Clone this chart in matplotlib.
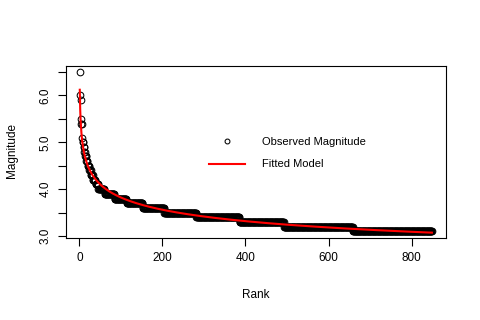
import numpy as np
import matplotlib
matplotlib.use("Agg")
import matplotlib.pyplot as plt
from matplotlib.lines import Line2D

plt.rcParams['font.family'] = ['Liberation Sans', 'DejaVu Sans']

# Observed magnitudes (levels) and how many events share each level, in rank order
mag_levels = [6.5, 6.0, 5.9, 5.5, 5.4, 5.1, 5.0, 4.9, 4.8, 4.7, 4.6, 4.5, 4.4, 4.3,
              4.2, 4.1, 4.0, 3.9, 3.8, 3.7, 3.6, 3.5, 3.4, 3.3, 3.2, 3.1]
mag_counts = [1, 1, 1, 1, 2, 1, 2, 2, 2, 3, 3, 4, 4, 5,
              6, 7, 15, 24, 29, 39, 52, 77, 104, 107, 166, 191]

magnitude = np.repeat(mag_levels, mag_counts)
rank = np.arange(1, len(magnitude) + 1)

# Fitted power-law model  M = a * rank^b
coef_b, log_a = np.polyfit(np.log(rank), np.log(magnitude), 1)
fitted = np.exp(log_a) * rank ** coef_b

x_ticks = [0, 200, 400, 600, 800]
y_ticks = [3.0, 3.5, 4.0, 4.5, 5.0, 5.5, 6.0, 6.5]
y_labels = ['3.0', '', '4.0', '', '5.0', '', '6.0', '']

W, H = 480, 320
fig = plt.figure(figsize=(4.8, 3.2), dpi=100)
ax = fig.add_axes([65.7 / W, 1 - 237.7 / H, (446 - 65.7) / W, (237.7 - 65.7) / H])

ax.plot(rank, magnitude, linestyle='none', marker='o', markersize=4.8,
        markerfacecolor='none', markeredgecolor='black', markeredgewidth=0.75)
ax.plot(rank, fitted, color='red', linewidth=1.5)

xr = rank.max() - rank.min()
ax.set_xlim(rank.min() - 0.04 * xr, rank.max() + 0.04 * xr)
yr = magnitude.max() - magnitude.min()
ax.set_ylim(magnitude.min() - 0.04 * yr, magnitude.max() + 0.04 * yr)

ax.set_xticks(x_ticks)
ax.set_xticklabels([str(t) for t in x_ticks])
ax.set_yticks(y_ticks)
ax.set_yticklabels(y_labels, rotation=90, va='center')
ax.tick_params(direction='out', length=6, width=0.8, labelsize=8.5, pad=4)
for s in ax.spines.values():
    s.set_linewidth(0.8)

fig.text(256 / W, 1 - 295 / H, 'Rank', ha='center', va='center', fontsize=8.5)
fig.text(12 / W, 1 - 151 / H, 'Magnitude', ha='center', va='center', rotation=90, fontsize=8.5)

handles = [Line2D([], [], linestyle='none', marker='o', markersize=3.5,
                  markerfacecolor='none', markeredgecolor='black', markeredgewidth=0.75),
           Line2D([], [], color='red', linewidth=1.5)]
ax.legend(handles, ['Observed Magnitude', 'Fitted Model'], loc='upper left',
          bbox_to_anchor=(209 / W, 1 - 137 / H), bbox_transform=fig.transFigure,
          frameon=False, fontsize=8, handlelength=3.24, handletextpad=1.53,
          labelspacing=1.12, borderpad=0, borderaxespad=0, numpoints=1)

fig.savefig('out.png', dpi=100)
